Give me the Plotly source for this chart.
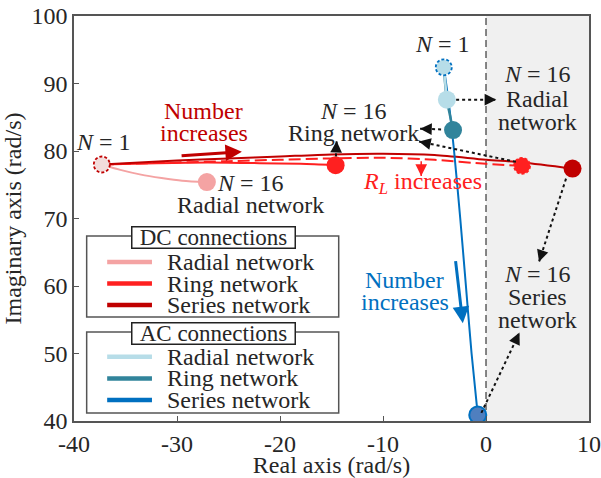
import plotly.graph_objects as go

# ---------------- data ----------------
x_ticks = [-40, -30, -20, -10, 0, 10]
x_tick_labels = ["-40", "-30", "-20", "-10", "0", "10"]
y_ticks = [40, 50, 60, 70, 80, 90, 100]
y_tick_labels = ["40", "50", "60", "70", "80", "90", "100"]

# DC connections: eigenvalue loci (real, imaginary) as N grows 1 -> 16
dc_radial_re = [-37.3, -35.5, -33.5, -31.5, -29.5, -27.1]
dc_radial_im = [78.0, 77.2, 76.5, 76.0, 75.6, 75.4]
dc_ring_re = [-37.3, -32.0, -27.0, -22.0, -18.0, -14.6]
dc_ring_im = [78.0, 78.2, 78.3, 78.2, 78.1, 77.9]
dc_ring_rl_re = [-37.3, -30.0, -25.0, -20.0, -15.0, -10.0, -5.0, 0.0, 3.5]
dc_ring_rl_im = [78.0, 78.3, 78.5, 78.7, 78.9, 79.0, 78.7, 78.1, 77.8]
dc_series_re = [-37.3, -30.0, -25.0, -20.0, -15.0, -10.0, -5.0, 0.0, 3.5, 8.4]
dc_series_im = [78.0, 78.6, 78.9, 79.2, 79.5, 79.6, 79.4, 78.7, 78.3, 77.4]

# AC connections
ac_radial_re = [-4.1, -3.8]
ac_radial_im = [92.4, 87.6]
ac_ring_re = [-4.1, -3.8, -3.5, -3.2]
ac_ring_im = [92.4, 87.6, 85.3, 83.1]
ac_series_re = [-4.1, -3.6, -3.1, -2.5, -1.95, -1.4, -0.8]
ac_series_im = [92.4, 87.0, 80.0, 70.0, 60.0, 50.0, 40.9]

legend_labels = ["Radial network", "Ring network", "Series network"]

# ---------------- styling ----------------
FONT = "'Times New Roman', 'Liberation Serif', Tinos, 'DejaVu Serif', serif"
TXT = "#262626"
DC_COLORS = ["#f4a3a3", "#ff2020", "#c00000"]
AC_COLORS = ["#b7dde8", "#31849b", "#0070c0"]
BLUE = "#0070c0"
DARKRED = "#c00000"
RED = "#ff2020"
FS = 24

W, H = 601, 478
M = dict(l=74, r=12, t=16, b=57)
XR = [-40, 10]
YR = [40, 100]
PX_X = (W - M["l"] - M["r"]) / (XR[1] - XR[0])
PX_Y = (H - M["t"] - M["b"]) / (YR[1] - YR[0])

fig = go.Figure()

# shaded right half-plane and imaginary axis
fig.add_shape(type="rect", x0=0, x1=XR[1], y0=YR[0], y1=YR[1], xref="x", yref="y",
              fillcolor="#f0f0f0", line_width=0, layer="below")
fig.add_shape(type="line", x0=0, x1=0, y0=YR[0], y1=YR[1], xref="x", yref="y",
              line=dict(color="#111111", width=1, dash="7px,4px"), layer="below")


def curve(x, y, color, width=2, dash="solid"):
    fig.add_trace(go.Scatter(x=x, y=y, mode="lines", showlegend=False,
                             line=dict(color=color, width=width, dash=dash, shape="spline", smoothing=0.8),
                             hoverinfo="skip"))


curve(dc_radial_re, dc_radial_im, DC_COLORS[0])
curve(dc_ring_rl_re, dc_ring_rl_im, RED, dash="12px,5px")
curve(dc_ring_re, dc_ring_im, DC_COLORS[1])
curve(dc_series_re, dc_series_im, DC_COLORS[2])
curve(ac_series_re, ac_series_im, AC_COLORS[2])
curve(ac_ring_re, ac_ring_im, AC_COLORS[1], width=2.5)
curve(ac_radial_re, ac_radial_im, AC_COLORS[0], width=2.5)


def dot(x, y, fill, line_color=None, line_width=0, size=18):
    fig.add_trace(go.Scatter(x=[x], y=[y], mode="markers", showlegend=False, hoverinfo="skip",
                             marker=dict(size=size, color=fill,
                                         line=dict(color=line_color or fill, width=line_width))))


def dotted_ring(x, y, color, r=8):
    fig.add_shape(type="circle", xref="x", yref="y", xsizemode="pixel", ysizemode="pixel",
                  xanchor=x, yanchor=y, x0=-r, x1=r, y0=-r, y1=r,
                  line=dict(color=color, width=1.8, dash="3px,2px"), layer="above")


# end points of the loci
dot(dc_radial_re[-1], dc_radial_im[-1], DC_COLORS[0])
dot(dc_ring_re[-1], dc_ring_im[-1], DC_COLORS[1])
dot(dc_ring_rl_re[-1], dc_ring_rl_im[-1], RED, size=16)
dotted_ring(dc_ring_rl_re[-1], dc_ring_rl_im[-1], RED)
dot(dc_series_re[-1], dc_series_im[-1], DC_COLORS[2])
dot(dc_series_re[0], dc_series_im[0], "#f2dcdb", size=15)
dotted_ring(dc_series_re[0], dc_series_im[0], DARKRED)

dot(ac_series_re[0], ac_series_im[0], AC_COLORS[0], size=15)
dotted_ring(ac_series_re[0], ac_series_im[0], BLUE)
dot(ac_radial_re[-1], ac_radial_im[-1], AC_COLORS[0])
dot(ac_ring_re[-1], ac_ring_im[-1], AC_COLORS[1])
dot(ac_series_re[-1], ac_series_im[-1], "#4f7fbf", line_color=BLUE, line_width=2, size=17)

annotations = []


def text(x, y, s, color=TXT, size=FS, xanchor="center"):
    annotations.append(dict(x=x, y=y, xref="x", yref="y", text=s, showarrow=False,
                            xanchor=xanchor, yanchor="middle",
                            font=dict(family=FONT, size=size, color=color)))


def arrow_head(tx, ty, hx, hy, color="#111111", width=1.8, size=1.3, back=7):
    dxp = (hx - tx) * PX_X
    dyp = -(hy - ty) * PX_Y
    n = (dxp ** 2 + dyp ** 2) ** 0.5
    annotations.append(dict(x=hx, y=hy, xref="x", yref="y", ax=-dxp / n * back, ay=-dyp / n * back,
                            text="", showarrow=True, arrowhead=2, arrowsize=size,
                            arrowwidth=width, arrowcolor=color, standoff=0))


def dotted_arrow(tx, ty, hx, hy, color="#111111", dash="3px,3px", width=2):
    fig.add_shape(type="line", x0=tx, y0=ty, x1=hx, y1=hy, xref="x", yref="y",
                  line=dict(color=color, width=width, dash=dash), layer="above")
    arrow_head(tx, ty, hx, hy, color=color)


def solid_arrow(tx, ty, hx, hy, color, width=3):
    annotations.append(dict(x=hx, y=hy, ax=tx, ay=ty, xref="x", yref="y", axref="x", ayref="y",
                            text="", showarrow=True, arrowhead=2, arrowsize=1.1,
                            arrowwidth=width, arrowcolor=color, standoff=0))


# labels
text(-37.1, 81.3, "<i>N</i> = 1")
text(-27.4, 86.0, "Number", color=DARKRED)
text(-27.4, 82.6, "increases", color=DARKRED)
solid_arrow(-29.7, 79.3, -23.7, 79.9, DARKRED)
text(-22.9, 75.3, "<i>N</i> = 16")
text(-22.9, 72.0, "Radial network")

text(-12.9, 86.0, "<i>N</i> = 16")
text(-12.85, 82.6, "Ring network")
text(-4.2, 95.9, "<i>N</i> = 1")
text(5.0, 91.4, "<i>N</i> = 16")
text(5.0, 87.7, "Radial")
text(5.0, 84.3, "network")
text(-6.2, 75.2, "<i>R<sub>L</sub></i> increases", color=RED)

text(5.0, 61.8, "<i>N</i> = 16")
text(5.0, 58.3, "Series")
text(5.0, 54.9, "network")
text(-7.9, 60.9, "Number", color=BLUE)
text(-7.9, 57.6, "increases", color=BLUE)
solid_arrow(-2.97, 63.9, -2.25, 54.5, BLUE)

# dotted pointers from markers to their labels
dotted_arrow(-14.57, 79.2, -14.5, 81.5)
dotted_arrow(-4.36, 83.2, -6.4, 83.3)
dotted_arrow(2.9, 78.4, -6.5, 81.4)
dotted_arrow(-2.9, 87.6, 1.0, 87.6)
dotted_arrow(7.77, 75.9, 5.15, 63.6)
dotted_arrow(-0.45, 41.2, 3.25, 53.1)
dotted_arrow(-6.29, 78.5, -6.29, 76.3, color=RED, dash="4px,2px", width=1.5)

# legend panels
panels = [("DC connections", DC_COLORS, 67.4, 55.4, 63.57),
          ("AC connections", AC_COLORS, 53.2, 41.2, 49.51)]
row_step = 3.2
for title, colors, top, bottom, first_row in panels:
    fig.add_shape(type="rect", x0=-38.77, x1=-14.3, y0=bottom, y1=top, xref="x", yref="y",
                  fillcolor="white", line=dict(color="#555555", width=1.5), layer="above")
    for i, (lab, col) in enumerate(zip(legend_labels, colors)):
        yy = first_row - i * row_step
        fig.add_shape(type="line", x0=-36.78, x1=-32.43, y0=yy, y1=yy, xref="x", yref="y",
                      line=dict(color=col, width=4.5), layer="above")
        text(-31.2, yy, lab, xanchor="left")
    annotations.append(dict(x=-26.45, y=top - 0.2, xref="x", yref="y", text=title, showarrow=False,
                            xanchor="center", yanchor="middle", width=162, height=20,
                            bgcolor="white", bordercolor="#222222", borderwidth=1.5, borderpad=0,
                            font=dict(family=FONT, size=23, color=TXT)))

axis_common = dict(showline=True, linecolor="#555555", linewidth=1.5, mirror=True,
                   ticks="inside", ticklen=5, tickcolor="#555555", showgrid=False, zeroline=False,
                   automargin=False,
                   tickfont=dict(family=FONT, size=FS, color=TXT))

fig.update_layout(
    width=W, height=H, margin=M,
    paper_bgcolor="white", plot_bgcolor="white",
    font=dict(family=FONT),
    showlegend=False,
    annotations=annotations,
    xaxis=dict(range=XR, tickvals=x_ticks, ticktext=x_tick_labels,
               title=dict(text="Real axis (rad/s)", font=dict(family=FONT, size=FS, color=TXT), standoff=4),
               **axis_common),
    yaxis=dict(range=YR, tickvals=y_ticks, ticktext=y_tick_labels,
               title=dict(text="Imaginary axis (rad/s)", font=dict(family=FONT, size=FS, color=TXT), standoff=4),
               **axis_common),
)

fig.write_html("out.html")
